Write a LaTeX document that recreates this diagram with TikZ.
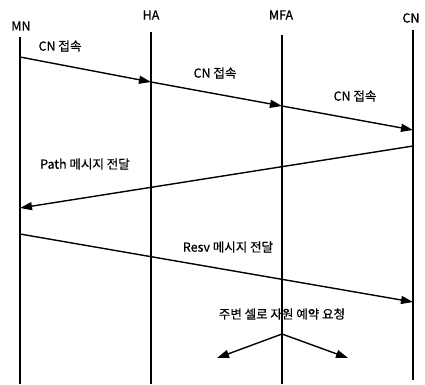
\documentclass[tikz,border=0pt]{standalone}
\usepackage{fontspec}
\setmainfont{Noto Sans CJK KR}[FakeBold=0.6]
\usetikzlibrary{arrows.meta}
\begin{document}
\begin{tikzpicture}[x=1pt,y=-1pt,
  life/.style={line width=1.1pt},
  msg/.style={line width=1.4pt,-{Triangle[length=12pt,width=8pt]}},
  lbl/.style={font=\fontsize{12.5}{14}\selectfont,inner sep=1pt},
  ent/.style={font=\fontsize{12.5}{14}\selectfont,inner sep=1pt}]
\useasboundingbox (0,0) rectangle (425,384);
% entity labels
\node[ent] (mn) at (21,26) {MN};
\node[ent] (ha) at (151,15) {HA};
\node[ent] (mfa) at (281,15) {MFA};
\node[ent] (cn) at (411,18) {CN};
% lifelines
\coordinate (mnT) at (20,37);  \coordinate (mnB) at (20,384);
\coordinate (haT) at (151,32); \coordinate (haB) at (151,384);
\coordinate (mfaT) at (282,35); \coordinate (mfaB) at (282,384);
\coordinate (cnT) at (413,30); \coordinate (cnB) at (413,380);
\draw[life] (mnT) -- (mnB);
\draw[life] (haT) -- (haB);
\draw[life] (mfaT) -- (mfaB);
\draw[life] (cnT) -- (cnB);
% message points
\coordinate (a1) at (20,57);
\coordinate (a2) at (151,82);
\coordinate (a3) at (282,106);
\coordinate (a4) at (413,130);
\coordinate (p1) at (413,146);
\coordinate (p2) at (20,208);
\coordinate (r1) at (20,234);
\coordinate (r2) at (413,302);
\coordinate (s0) at (282,334);
\coordinate (sL) at (217,358);
\coordinate (sR) at (348,358);
\draw[msg] (a1) -- (a2);
\draw[msg] (a2) -- (a3);
\draw[msg] (a3) -- (a4);
\draw[msg] (p1) -- (p2);
\draw[msg] (r1) -- (r2);
\draw[msg] (s0) -- (sL);
\draw[msg] (s0) -- (sR);
% labels
\node[lbl] (l1) at (60,46) {CN 접속};
\node[lbl] (l2) at (215,73) {CN 접속};
\node[lbl] (l3) at (355,96) {CN 접속};
\node[lbl] (l4) at (85,164) {Path 메시지 전달};
\node[lbl] (l5) at (228,247) {Resv 메시지 전달};
\node[lbl] (l6) at (282,314) {주변 셀로 자원 예약 요청};
\end{tikzpicture}
\end{document}
